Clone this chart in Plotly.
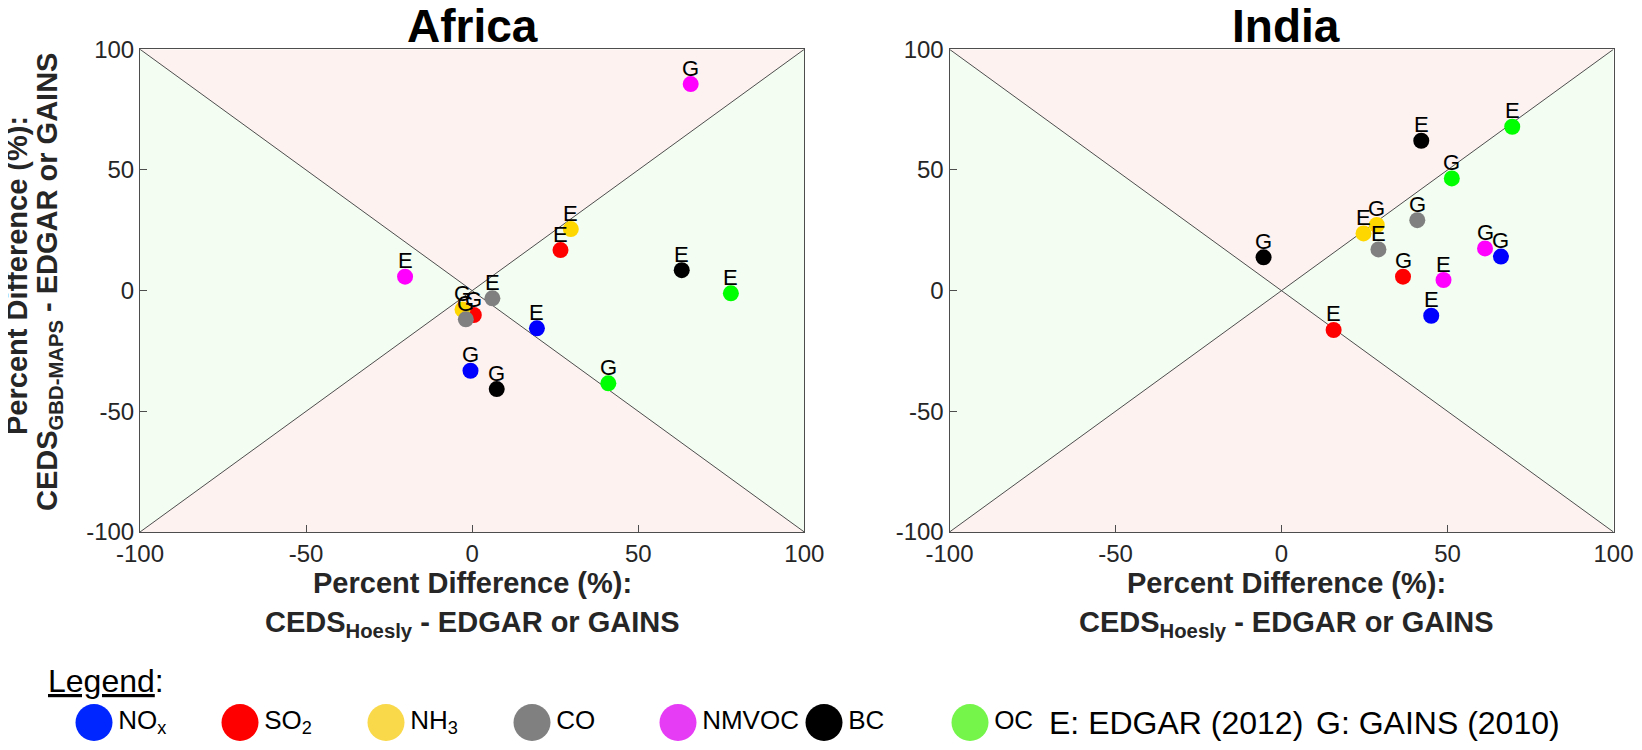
import plotly.graph_objects as go

W, H = 1642, 750
OFF = 8  # default page body margin around the plot div
FW, FH = W - 2 * OFF, H - 2 * OFF

species = ["NO<sub>x</sub>", "SO<sub>2</sub>", "NH<sub>3</sub>", "CO", "NMVOC", "BC", "OC"]
point_colors = ["#0000ff", "#ff0000", "#ffd700", "#808080", "#ff00ff", "#000000", "#00ff00"]
legend_colors = ["#0026ff", "#ff0000", "#f9d84a", "#808080", "#e63cf5", "#000000", "#75f54a"]
ticks = [-100, -50, 0, 50, 100]
tick_text = ["-100", "-50", "0", "50", "100"]

# Africa, species order as above
africa_edgar_x = [19.5, 26.6, 29.7, 6.1, -20.2, 63.1, 77.9]
africa_edgar_y = [-15.6, 16.8, 25.5, -3.2, 5.8, 8.5, -1.1]
africa_gains_x = [-0.5, 0.5, -2.9, -1.9, 65.8, 7.4, 41.0]
africa_gains_y = [-33.2, -10.1, -7.8, -11.9, 85.6, -40.8, -38.4]

# India
india_edgar_x = [45.1, 15.7, 24.7, 29.2, 48.8, 42.1, 69.5]
india_edgar_y = [-10.4, -16.3, 23.7, 17.1, 4.4, 62.1, 67.9]
india_gains_x = [66.1, 36.6, 28.7, 40.9, 61.3, -5.4, 51.3]
india_gains_y = [14.1, 5.8, 27.2, 29.2, 17.5, 13.8, 46.5]

FONT = "Liberation Sans, Arial, sans-serif"
PINK = "#fef2f1"
GREEN = "#f3fdf1"
LINE = "#4d4d4d"


def px(x):
    return (x - OFF) / FW


def py(y):
    return 1 - (y - OFF) / FH


fig = go.Figure()
ann = []

panels = [
    ("x", "y", africa_edgar_x, africa_edgar_y, africa_gains_x, africa_gains_y),
    ("x2", "y2", india_edgar_x, india_edgar_y, india_gains_x, india_gains_y),
]
for xa, ya, ex, ey, gx, gy in panels:
    for xs, ys, lab in ((ex, ey, "E"), (gx, gy, "G")):
        fig.add_trace(go.Scatter(
            x=xs, y=ys, xaxis=xa, yaxis=ya, mode="markers",
            marker=dict(size=16, color=point_colors, line=dict(width=0)),
            showlegend=False, cliponaxis=False, hoverinfo="x+y"))
        for xv, yv in zip(xs, ys):
            ann.append(dict(text=lab, x=xv, y=yv, xref=xa, yref=ya, showarrow=False,
                            xanchor="center", yanchor="middle", yshift=16,
                            font=dict(size=22, color="black", family=FONT)))

    # background quadrants and diagonals
    tri = [
        ("M -100,100 L 100,100 L 0,0 Z", PINK),
        ("M -100,-100 L 100,-100 L 0,0 Z", PINK),
        ("M -100,-100 L -100,100 L 0,0 Z", GREEN),
        ("M 100,-100 L 100,100 L 0,0 Z", GREEN),
    ]
    for path, col in tri:
        fig.add_shape(type="path", path=path, xref=xa, yref=ya, fillcolor=col,
                      line=dict(width=0), layer="below")
    fig.add_shape(type="line", x0=-100, y0=-100, x1=100, y1=100, xref=xa, yref=ya,
                  line=dict(color=LINE, width=1), layer="below")
    fig.add_shape(type="line", x0=-100, y0=100, x1=100, y1=-100, xref=xa, yref=ya,
                  line=dict(color=LINE, width=1), layer="below")

# custom legend row
fig.add_trace(go.Scatter(
    x=list(range(len(species))), y=[0] * len(species), xaxis="x3", yaxis="y3",
    mode="markers+text", text=species, textposition="middle right",
    textfont=dict(size=26, color="black", family=FONT),
    marker=dict(size=37, color=legend_colors, line=dict(width=0)),
    showlegend=False, cliponaxis=False, hoverinfo="skip"))

axis_common = dict(
    range=[-100, 100], tickvals=ticks, ticktext=tick_text, showgrid=False, zeroline=False,
    showline=True, linecolor=LINE, linewidth=1, mirror=True,
    ticks="inside", ticklen=7, tickcolor=LINE,
    tickfont=dict(size=24, color="#262626", family=FONT),
)

left_px = (140, 804.3)
right_px = (949.5, 1613.5)
y_dom = [py(532), py(49.3)]
x1_dom = [px(left_px[0]), px(left_px[1])]
x2_dom = [px(right_px[0]), px(right_px[1])]

lx0, lx1 = 94, 970
span = (len(species) - 1) * FW / (lx1 - lx0)
r0 = -(lx0 - OFF) / FW * span
leg_c = py(722.5)

fig.update_layout(
    width=FW, height=FH, autosize=False,
    margin=dict(l=0, r=0, t=0, b=0, autoexpand=False),
    paper_bgcolor="white", plot_bgcolor="white",
    font=dict(family=FONT, color="black"),
    xaxis=dict(domain=x1_dom, anchor="y", **axis_common),
    yaxis=dict(domain=y_dom, anchor="x", **axis_common),
    xaxis2=dict(domain=x2_dom, anchor="y2", **axis_common),
    yaxis2=dict(domain=y_dom, anchor="x2", **axis_common),
    xaxis3=dict(domain=[0, 1], range=[r0, r0 + span], visible=False, anchor="y3"),
    yaxis3=dict(domain=[0, 2 * leg_c], range=[-1, 1], visible=False, anchor="x3"),
    showlegend=False,
)

for cx, name in ((472, "Africa"), (1286, "India")):
    ann.append(dict(text="<b>%s</b>" % name, x=px(cx), y=py(26), xref="paper", yref="paper",
                    xanchor="center", yanchor="middle", showarrow=False,
                    font=dict(size=46, color="black", family=FONT)))
    ann.append(dict(text="<b>Percent Difference (%):</b>", x=px(cx), y=py(583),
                    xref="paper", yref="paper", xanchor="center", yanchor="middle",
                    showarrow=False, font=dict(size=29, color="#262626", family=FONT)))
    ann.append(dict(text="<b>CEDS<sub>Hoesly</sub> - EDGAR or GAINS</b>", x=px(cx), y=py(624),
                    xref="paper", yref="paper", xanchor="center", yanchor="middle",
                    showarrow=False, font=dict(size=29, color="#262626", family=FONT)))

ann.append(dict(text="<b>Percent Difference (%):</b>", x=px(17), y=py(276), textangle=-90,
                xref="paper", yref="paper", xanchor="center", yanchor="middle",
                showarrow=False, font=dict(size=29, color="#262626", family=FONT)))
ann.append(dict(text="<b>CEDS<sub>GBD-MAPS</sub> - EDGAR or GAINS</b>", x=px(49), y=py(282),
                textangle=-90, xref="paper", yref="paper", xanchor="center", yanchor="middle",
                showarrow=False, font=dict(size=29, color="#262626", family=FONT)))

ann.append(dict(text="<u>Legend</u>:", x=px(46), y=py(681), xref="paper", yref="paper",
                xanchor="left", yanchor="middle", showarrow=False,
                font=dict(size=32, color="black", family=FONT)))
for x0, t in ((1047, "E: EDGAR (2012)"), (1314, "G: GAINS (2010)")):
    ann.append(dict(text=t, x=px(x0), y=py(722.5), xref="paper", yref="paper",
                    xanchor="left", yanchor="middle", showarrow=False,
                    font=dict(size=32, color="black", family=FONT)))

fig.update_layout(annotations=ann)

fig.write_html("out.html")
